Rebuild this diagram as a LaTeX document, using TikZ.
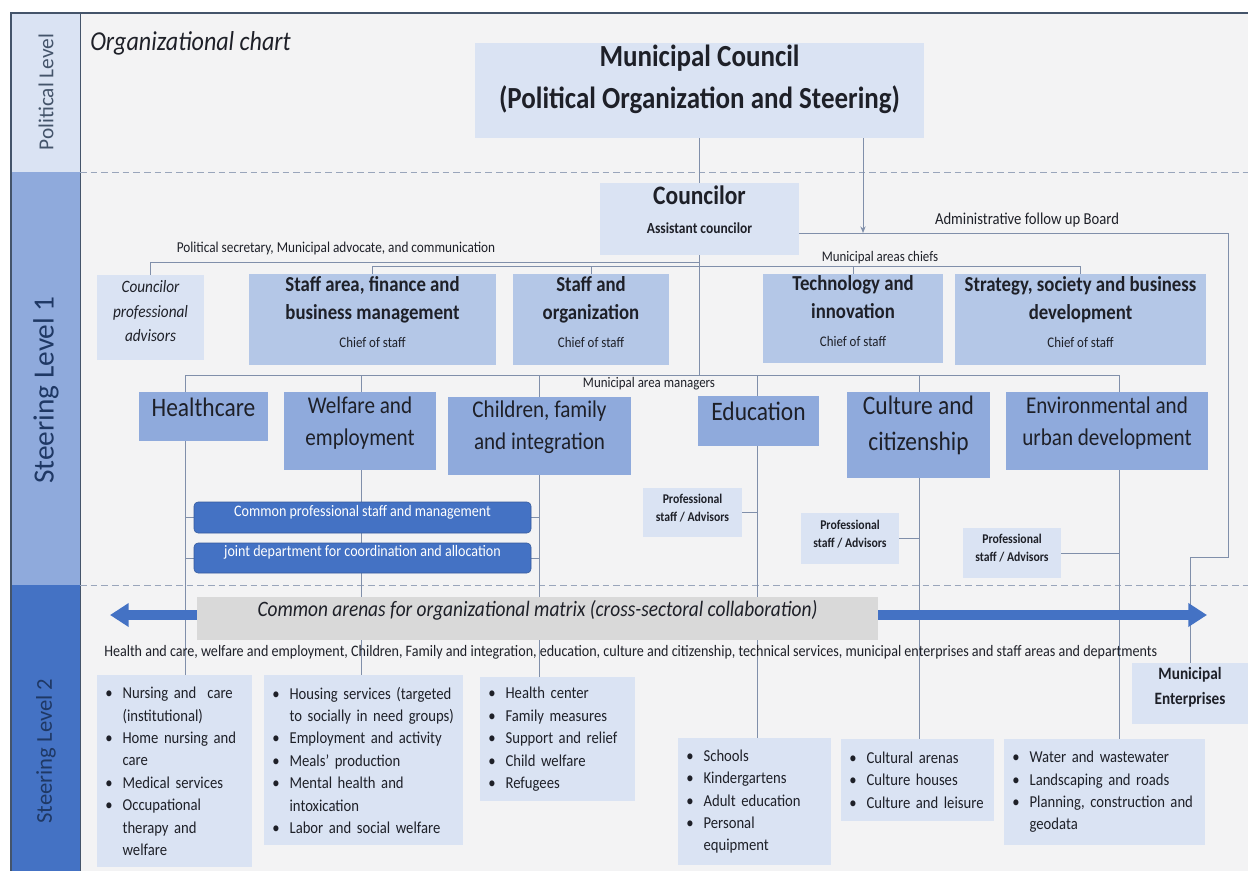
\documentclass[tikz,border=0pt]{standalone}
\usepackage{fontspec}
\setmainfont{Carlito}[FakeStretch=0.88]
\newfontfamily\bandfont{Carlito}
\usepackage{tikz}
\usetikzlibrary{positioning, arrows.meta, fit, backgrounds}
\usepackage{xcolor}
\definecolor{OrgPale}{RGB}{218,227,243}
\definecolor{OrgSoft}{RGB}{180,199,231}
\definecolor{OrgMid}{RGB}{143,170,220}
\definecolor{OrgDeep}{RGB}{68,114,196}
\definecolor{OrgNavy}{RGB}{31,56,100}
\definecolor{OrgSlate}{RGB}{68,84,106}
\definecolor{OrgLine}{RGB}{128,143,170}
\definecolor{OrgGray}{RGB}{217,217,217}
\definecolor{OrgPaper}{RGB}{243,243,244}
\definecolor{OrgInk}{RGB}{30,32,40}
\newcommand{\bitem}[1]{\makebox[15pt][l]{\hspace{2pt}\textbullet}#1}
\newcommand{\bcont}[1]{\hspace*{15pt}#1}

\begin{document}
\begin{tikzpicture}[x=0.75pt, y=-0.75pt, >=Stealth, text=OrgInk,
  palebox/.style={fill=OrgPale, inner sep=0pt, align=center},
  chiefbox/.style={fill=OrgSoft, inner sep=0pt, align=center, font=\bfseries\fontsize{16}{21}\selectfont},
  areabox/.style={fill=OrgMid, inner sep=0pt, align=center, font=\fontsize{18}{24}\selectfont},
  sharedbox/.style={fill=OrgDeep, draw=OrgDeep!80!black, rounded corners=3pt, inner sep=0pt, text=white, font=\fontsize{12}{14}\selectfont},
  advisorbox/.style={palebox, font=\bfseries\fontsize{10}{13.5}\selectfont},
  listbox/.style={fill=OrgPale, anchor=north west, inner xsep=4pt, inner ysep=0pt, align=left, font=\fontsize{12.5}{16.8}\selectfont},
  linklabel/.style={font=\fontsize{11}{13}\selectfont},
  bandlabel/.style={rotate=90},
  link/.style={draw=OrgLine, line width=0.7pt},
  levelsep/.style={draw=OrgLine!80, dash pattern=on 5pt off 3pt, line width=0.7pt},
  bigarrow/.style={draw=OrgDeep, line width=7pt, -{Triangle[length=14pt, width=17pt]}}]
  \useasboundingbox (0,0) rectangle (1248,871);
  \begin{scope}[on background layer]
    \fill[white] (0,0) rectangle (1248,871);
    \fill[OrgPaper] (80,13) rectangle (1248,871);
    \fill[OrgPale] (11,13) rectangle (80,172);
    \fill[OrgMid] (11,172) rectangle (80,585);
    \fill[OrgDeep] (11,585) rectangle (80,871);
    \draw[OrgSlate, line width=0.8pt] (1248,13) -- (11,13) -- (11,871);
    \draw[OrgSlate, line width=0.6pt] (80,13) -- (80,871);
    \draw[levelsep] (80,172) -- (1248,172);
    \draw[levelsep] (80,585) -- (1248,585);
  \end{scope}

  \node[bandlabel, text=OrgSlate, font=\bandfont\fontsize{16}{18}\selectfont] (lvlpol) at (46,92) {Political Level};
  \node[bandlabel, text=OrgNavy, font=\bandfont\fontsize{22}{24}\selectfont] (lvlone) at (46,390) {Steering Level 1};
  \node[bandlabel, text=OrgNavy, font=\bandfont\fontsize{17}{19}\selectfont] (lvltwo) at (46,751) {Steering Level 2};

  \node[anchor=base west, inner sep=0pt, font=\itshape\fontsize{20.5}{22}\selectfont] (title) at (90,50) {Organizational chart};

  \node[palebox, fit={(475,43) (924,138)}, font=\bfseries\fontsize{23}{31.5}\selectfont] (council) {Municipal Council\\(Political Organization and Steering)};
  \node[palebox, fit={(600,183) (799,255)}, font=\bfseries\fontsize{20}{22}\selectfont] (clr) {Councilor\\{\fontsize{11.5}{22}\selectfont Assistant councilor}};

  \node[palebox, fit={(97,275) (204,360)}, font=\itshape\fontsize{13}{18.4}\selectfont] (advisors) {Councilor\\professional\\advisors};
  \node[chiefbox, fit={(249,274) (496,365)}] (staffarea) {Staff area, finance and\\business management\\{\mdseries\fontsize{11}{21}\selectfont Chief of staff}};
  \node[chiefbox, fit={(513,274) (669,365)}] (stafforg) {Staff and\\organization\\{\mdseries\fontsize{11}{21}\selectfont Chief of staff}};
  \node[chiefbox, fit={(763,274) (943,363)}] (tech) {Technology and\\innovation\\{\mdseries\fontsize{11}{21}\selectfont Chief of staff}};
  \node[chiefbox, fit={(955,274) (1206,365)}] (strategy) {Strategy, society and business\\development\\{\mdseries\fontsize{11}{21}\selectfont Chief of staff}};

  \node[areabox, fit={(139,392) (268,441)}, font=\fontsize{20}{24}\selectfont] (health) {Healthcare};
  \node[areabox, fit={(284,392) (436,470)}] (welfare) {Welfare and\\employment};
  \node[areabox, fit={(448,397) (631,475)}] (children) {Children, family\\and integration};
  \node[areabox, fit={(698,396) (819,446)}, font=\fontsize{20}{24}\selectfont] (educ) {Education};
  \node[areabox, fit={(847,392) (990,478)}, font=\fontsize{20}{27}\selectfont] (culture) {Culture and\\citizenship};
  \node[areabox, fit={(1006,392) (1208,470)}] (envir) {Environmental and\\urban development};

  \node[sharedbox, fit={(194,502) (531,533)}] (commonstaff) {Common professional staff and management};
  \node[sharedbox, fit={(194,543) (531,573)}] (jointdept) {joint department for coordination and allocation};

  \node[advisorbox, fit={(643,488) (742,537)}] (prof1) {Professional\\staff / Advisors};
  \node[advisorbox, fit={(801,513) (899,564)}] (prof2) {Professional\\staff / Advisors};
  \node[advisorbox, fit={(963,528) (1061,578)}] (prof3) {Professional\\staff / Advisors};

  \node[fill=OrgGray, inner sep=0pt, fit={(197,597) (878,640)}, font=\itshape\fontsize{16.5}{18}\selectfont] (arenas) {Common arenas for organizational matrix (cross-sectoral collaboration)};
  \node[anchor=west, inner sep=0pt, font=\fontsize{12}{13}\selectfont] (arenalist) at (104,652) {Health and care, welfare and employment, Children, Family and integration, education, culture and citizenship, technical services, municipal enterprises and staff areas and departments};

  \node[palebox, fit={(1132,663) (1248,724)}, font=\bfseries\fontsize{13}{19}\selectfont] (enterprises) {Municipal\\Enterprises};

  \node[listbox, text width=108pt, minimum height=144pt] (nursing) at (97,675) {\bitem{Nursing and\ \ care}\\\bcont{(institutional)}\\\bitem{Home nursing and}\\\bcont{care}\\\bitem{Medical services}\\\bitem{Occupational}\\\bcont{therapy and}\\\bcont{welfare}};
  \node[listbox, text width=141pt, minimum height=127.5pt] (housing) at (264,675) {\bitem{Housing services (targeted}\\\bcont{to socially in need groups)}\\\bitem{Employment and activity}\\\bitem{Meals’ production}\\\bitem{Mental health and}\\\bcont{intoxication}\\\bitem{Labor and social welfare}};
  \node[listbox, text width=108pt, minimum height=93pt] (hcenter) at (480,677) {\bitem{Health center}\\\bitem{Family measures}\\\bitem{Support and relief}\\\bitem{Child welfare}\\\bitem{Refugees}};
  \node[listbox, text width=106.5pt, minimum height=95pt] (schools) at (678,738) {\bitem{Schools}\\\bitem{Kindergartens}\\\bitem{Adult education}\\\bitem{Personal}\\\bcont{equipment}};
  \node[listbox, text width=106.5pt, minimum height=61pt] (cultural) at (841,739) {\bitem{Cultural arenas}\\\bitem{Culture houses}\\\bitem{Culture and leisure}};
  \node[listbox, text width=142.5pt, minimum height=79pt] (water) at (1004,739) {\bitem{Water and wastewater}\\\bitem{Landscaping and roads}\\\bitem{Planning, construction and}\\\bcont{geodata}};

  \node[linklabel, font=\fontsize{11.3}{13}\selectfont] (polsec) at (336,248) {Political secretary, Municipal advocate, and communication};
  \node[linklabel] (chiefs) at (880,258) {Municipal areas chiefs};
  \node[linklabel] (managers) at (649,384) {Municipal area managers};
  \node[linklabel, font=\fontsize{12.5}{14}\selectfont] (board) at (1027,220) {Administrative follow up Board};

  \coordinate (col1) at (185,375);
  \coordinate (col2) at (361,375);
  \coordinate (col3) at (539,375);
  \coordinate (col4) at (757,375);
  \coordinate (col5) at (919,375);
  \coordinate (col6) at (1119,375);
  \coordinate (brdhit) at (863,233);
  \coordinate (brdturn) at (1228,557);
  \coordinate (arenaleft) at (110,615);
  \coordinate (arenaright) at (1207,615);

  \begin{scope}[on background layer]
    \draw[link] (council) -- (clr);
    \draw[link] (clr.east |- brdhit) -| (brdturn) -| (enterprises.north);
    \draw[link] (clr) -- (clr |- col1);
    \draw[link] (advisors.north) |- (clr.south |- 0,262);
    \draw[link] (staffarea.north) -- ++(0,-7) -| (strategy.north);
    \draw[link] (stafforg.north) -- ++(0,-7);
    \draw[link] (tech.north) -- ++(0,-7);
    \draw[link] (col1) -- (col6);
    \draw[link] (col1) -- (col1 |- nursing.north);
    \draw[link] (col2) -- (col2 |- housing.north);
    \draw[link] (col3) -- (col3 |- hcenter.north);
    \draw[link] (col4) -- (col4 |- schools.north);
    \draw[link] (col5) -- (col5 |- cultural.north);
    \draw[link] (col6) -- (col6 |- water.north);
    \draw[link] (commonstaff.west -| col1) -- (commonstaff.west);
    \draw[link] (commonstaff.east) -- (commonstaff.east -| col3);
    \draw[link] (jointdept.west -| col1) -- (jointdept.west);
    \draw[link] (jointdept.east) -- (jointdept.east -| col3);
    \draw[link] (prof1.east) -- (prof1.east -| col4);
    \draw[link] (prof2.east) -- (prof2.east -| col5);
    \draw[link] (prof3.east) -- (prof3.east -| col6);
  \end{scope}
  \draw[link, -{Stealth[length=5pt, width=4pt]}] (council.south -| brdhit) -- (brdhit);
  \draw[bigarrow] (arenas.west |- arenaleft) -- (arenaleft);
  \draw[bigarrow] (arenas.east |- arenaright) -- (arenaright);
\end{tikzpicture}
\end{document}
